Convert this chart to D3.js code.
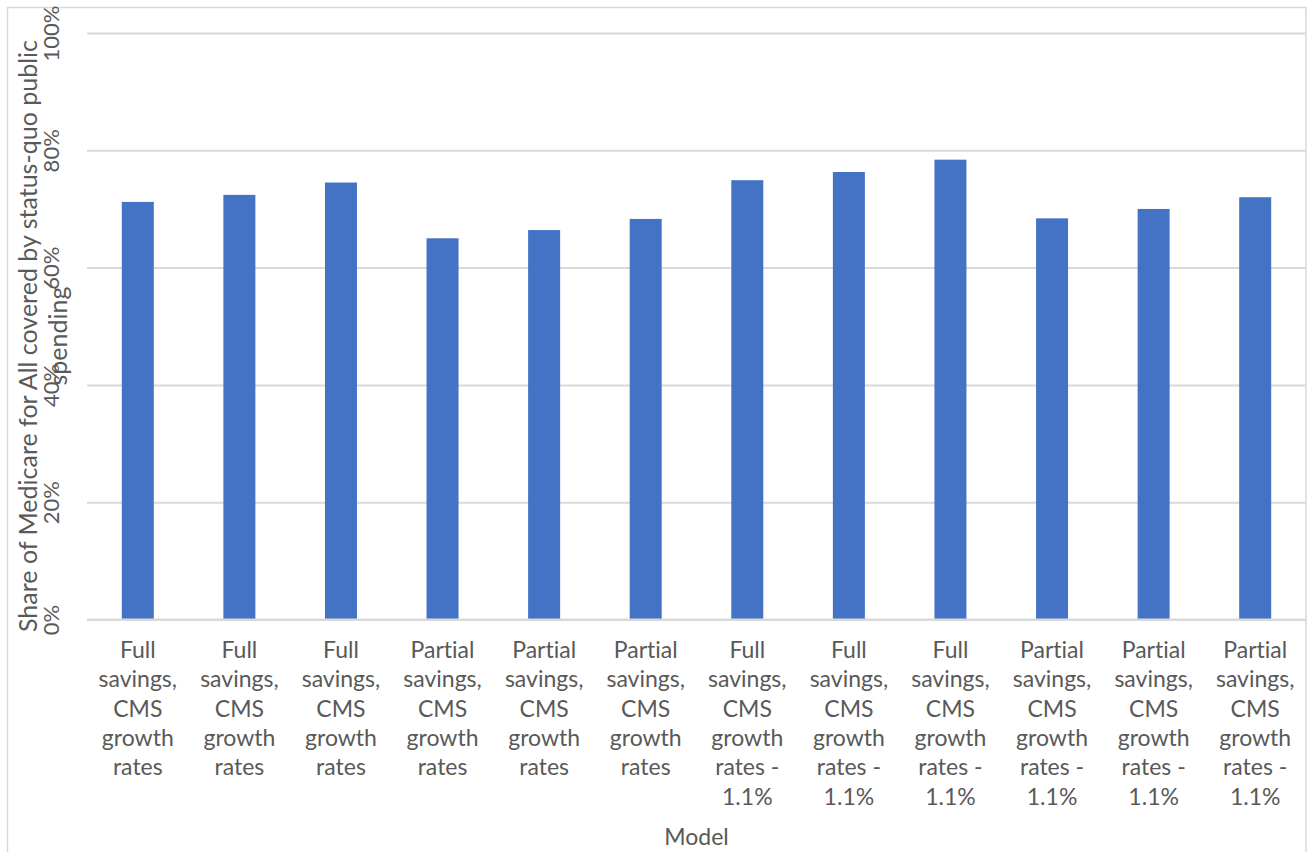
<!DOCTYPE html>
<html>
<head>
<meta charset="utf-8">
<script src="https://cdn.jsdelivr.net/npm/d3@7"></script>
<style>
  html, body { margin: 0; padding: 0; background: #fff; }
  svg { display: block; font-family: "Lato", "Liberation Sans", sans-serif; }
  svg text { font-variant-ligatures: none; font-feature-settings: "liga" 0; }
</style>
</head>
<body>
<svg id="chart" width="1308" height="852"></svg>
<script>
// ---- data ----
const categories = [
  "Full savings, CMS growth rates",
  "Full savings, CMS growth rates",
  "Full savings, CMS growth rates",
  "Partial savings, CMS growth rates",
  "Partial savings, CMS growth rates",
  "Partial savings, CMS growth rates",
  "Full savings, CMS growth rates - 1.1%",
  "Full savings, CMS growth rates - 1.1%",
  "Full savings, CMS growth rates - 1.1%",
  "Partial savings, CMS growth rates - 1.1%",
  "Partial savings, CMS growth rates - 1.1%",
  "Partial savings, CMS growth rates - 1.1%"
];
const shares = [71.2, 72.4, 74.5, 65.0, 66.4, 68.3, 74.9, 76.3, 78.4, 68.4, 70.0, 72.0];
const yTicks = [0, 20, 40, 60, 80, 100];
const yTitleLines = ["Share of Medicare for All covered by status-quo public", "spending"];
const xTitle = "Model";

// ---- layout ----
const svg = d3.select("#chart");
const mLeft = 87, mRight = 1306, mTop = 33, mBottom = 619.5;
const textColor = "#595959";
const gridColor = "#d9d9d9";
const FONT = "Lato, 'Liberation Sans', sans-serif";

// outer frame
svg.append("rect")
  .attr("x", 7.5).attr("y", 7.5)
  .attr("width", 1298.5).attr("height", 860)
  .attr("fill", "none").attr("stroke", gridColor).attr("stroke-width", 1.5);

const idx = d3.range(categories.length);
const x = d3.scaleBand().domain(idx).range([mLeft, mRight]).paddingInner(0.685).paddingOuter(0.3425);
const y = d3.scaleLinear().domain([0, 100]).range([mBottom, mTop]);

// gridlines
const grid = svg.append("g").attr("transform", `translate(${mLeft},0)`)
  .call(d3.axisLeft(y).tickValues(yTicks).tickSize(-(mRight - mLeft)).tickFormat(""));
grid.select(".domain").remove();
grid.selectAll(".tick line").attr("stroke", gridColor).attr("stroke-width", 2);

// bars
svg.append("g").selectAll("rect")
  .data(shares)
  .join("rect")
  .attr("x", (d, i) => x(i))
  .attr("width", x.bandwidth())
  .attr("y", d => y(d))
  .attr("height", d => y(0) - y(d))
  .attr("fill", "#4472C4");

// y axis labels (rotated)
const yAxis = svg.append("g").attr("transform", `translate(${mLeft},0)`)
  .call(d3.axisLeft(y).tickValues(yTicks).tickSize(0).tickFormat(d => d + "%"));
yAxis.attr("font-family", FONT);
yAxis.select(".domain").remove();
yAxis.selectAll(".tick text")
  .attr("x", null).attr("dy", null)
  .attr("transform", `translate(${59 - mLeft},0) rotate(-90)`)
  .attr("text-anchor", "middle")
  .attr("fill", textColor)
  .style("font-size", "22px");

// x axis labels
const xAxis = svg.append("g").attr("transform", `translate(0,${mBottom})`)
  .call(d3.axisBottom(x).tickSize(0).tickFormat(""));
xAxis.attr("font-family", FONT);
xAxis.select(".domain").attr("stroke", gridColor).attr("stroke-width", 2)
  .attr("d", `M${mLeft},0H${mRight}`);
const lineH = 29.3;
xAxis.selectAll(".tick").each(function(d) {
  const label = categories[d];
  const parts = label.split(" ");
  const lines = [];
  let i = 0;
  while (i < parts.length) {
    if (parts[i] === "rates" && parts[i + 1] === "-") { lines.push("rates -"); i += 2; }
    else { lines.push(parts[i]); i += 1; }
  }
  const t = d3.select(this).append("text")
    .attr("fill", textColor)
    .attr("text-anchor", "middle")
    .style("font-size", "23px");
  lines.forEach((ln, k) => {
    t.append("tspan").attr("x", 0).attr("y", 658 - mBottom + k * lineH).text(ln);
  });
});

// x title
svg.append("text")
  .attr("x", (mLeft + mRight) / 2).attr("y", 845)
  .attr("text-anchor", "middle")
  .attr("fill", textColor)
  .style("font-size", "23px")
  .text(xTitle);

// y title (two rotated lines)
const yt = svg.append("text")
  .attr("transform", "translate(0,336) rotate(-90)")
  .attr("text-anchor", "middle")
  .attr("fill", textColor)
  .style("font-size", "25px");
yTitleLines.forEach((ln, k) => {
  yt.append("tspan").attr("x", 0).attr("y", 37 + k * 30).text(ln);
});
</script>
</body>
</html>
